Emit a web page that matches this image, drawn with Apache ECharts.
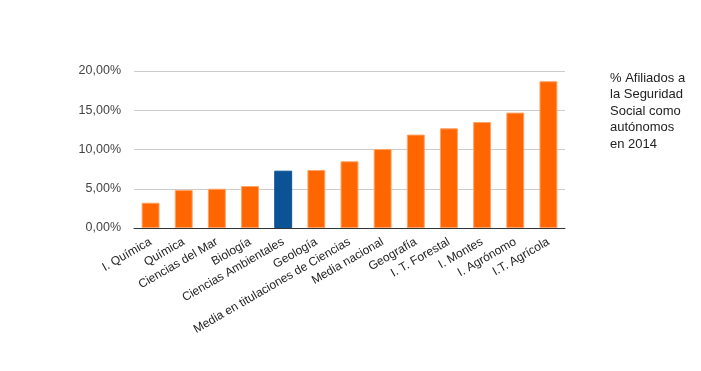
<!DOCTYPE html>
<html><head><meta charset="utf-8">
<script src="https://cdn.jsdelivr.net/npm/echarts@6/dist/echarts.min.js"></script>
<style>html,body{margin:0;padding:0;background:#fff}#c{width:701px;height:371px}</style>
</head><body><div id="c"></div>
<script>
const categories = ["I. Química","Química","Ciencias del Mar","Biología","Ciencias Ambientales","Geología","Media en titulaciones de Ciencias","Media nacional","Geografía","I. T. Forestal","I. Montes","I. Agrónomo","I.T. Agrícola"];
const values = [3.22, 4.84, 5.0, 5.35, 7.3, 7.39, 8.5, 10.06, 11.9, 12.7, 13.5, 14.7, 18.7];
const highlightIndex = 4;
const yTicks = [0, 5, 10, 15, 20];
const legendText = "% Afiliados a\nla Seguridad\nSocial como\nautónomos\nen 2014";

const chart = echarts.init(document.getElementById('c'), null, {renderer:'canvas'});
chart.setOption({
  animation:false,
  textStyle:{fontFamily:'Liberation Sans, Arial, sans-serif'},
  grid:{left:134, right:136, top:71, bottom:143},
  title:{text:legendText, left:605, top:65, textStyle:{fontSize:13, fontWeight:'normal', color:'#222', lineHeight:16.5, fontFamily:'Liberation Sans, Arial, sans-serif'}},
  xAxis:{type:'category', data:categories,
    axisLine:{lineStyle:{color:'#333', width:1}}, axisTick:{show:false},
    axisLabel:{interval:0, rotate:30, fontSize:12, color:'#222', margin:13}},
  yAxis:{type:'value', min:yTicks[0], max:yTicks[yTicks.length-1], interval:5,
    axisLine:{show:false}, axisTick:{show:false},
    splitLine:{lineStyle:{color:'#ccc'}},
    axisLabel:{fontSize:12.5, color:'#444', margin:13, formatter:v=>v.toFixed(2).replace('.',',')+'%'}},
  series:[{type:'bar', barWidth:'54%',
    data:values.map((v,i)=>({value:v, itemStyle:{color:i===highlightIndex?'#0b5394':'#ff6600', borderColor:i===highlightIndex?'#0b5394':'#ffa366', borderWidth:1}}))}]
});
</script></body></html>
